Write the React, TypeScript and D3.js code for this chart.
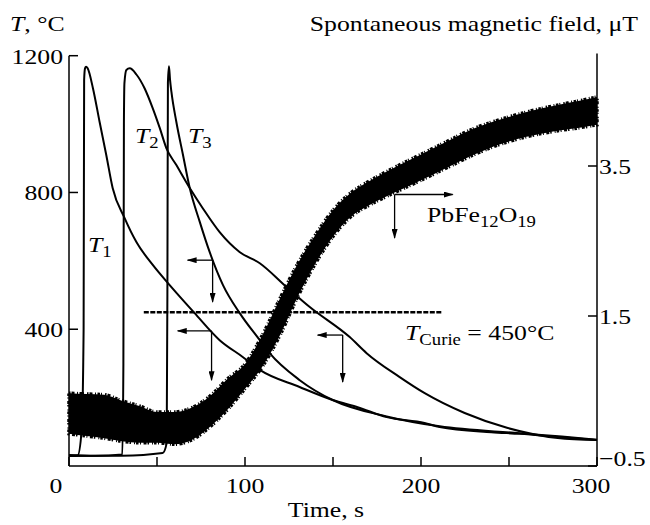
import { scaleLinear, line, area, curveMonotoneX } from 'd3';

// temperature curves (time s, °C)
const t1Time = [0, 4.9, 7.2, 8.3, 8.6, 9.1, 9.7, 10.6, 13.6, 17.4, 21.2, 24.8, 31.6, 38.3, 47.6, 57.2, 71.4, 85.6, 98.7, 108.4, 131, 149.8, 164, 180.5, 202, 210.6, 240, 256, 280, 300];
const t1Temp = [30, 31, 105, 400, 1129, 1163, 1168, 1163, 1105, 1006, 909, 813, 725, 655, 588, 529, 447, 368, 319, 281, 231, 193, 172, 143, 126, 114, 99, 94, 84, 76];

const t2Time = [0, 15, 30.3, 30.9, 31.2, 31.5, 32.6, 34.5, 38.3, 43, 47.6, 51.6, 55.3, 61, 68.6, 76, 85.6, 96.9, 108.4, 123.7, 136.8, 159.5, 169.1, 187.9, 202.1, 224.8, 249.3, 277.7, 300];
const t2Temp = [32, 30, 34, 300, 1000, 1120, 1158, 1163, 1145, 1104, 1046, 988, 930, 880, 813, 754, 684, 626, 593, 523, 465, 377, 330, 260, 213, 155, 111, 82, 76];

const t3Time = [0, 30, 53.2, 55.5, 55.9, 56.2, 56.8, 57.4, 58.2, 61, 64.8, 68.6, 74.3, 79.9, 87.5, 97, 108.4, 114, 131.1, 149.8, 180.5, 210.6, 256, 280, 300];
const t3Temp = [29, 30, 38, 67, 500, 1120, 1169, 1130, 1094, 1006, 909, 813, 714, 626, 529, 447, 368, 330, 251, 193, 145, 116, 96, 86, 77];

// spontaneous magnetic field band, upper and lower edge (μT)
const fieldTime = [0, 10, 20, 30, 40, 50, 60, 70, 80, 90, 100, 110, 120, 130, 140, 150, 160, 170, 180, 190, 200, 215, 230, 245, 260, 275, 290, 300];
const fieldHigh = [0.47, 0.46, 0.45, 0.37, 0.3, 0.22, 0.22, 0.28, 0.43, 0.66, 0.86, 1.25, 1.74, 2.2, 2.58, 2.91, 3.14, 3.29, 3.42, 3.54, 3.655, 3.83, 4.0, 4.12, 4.22, 4.3, 4.37, 4.42];
const fieldLow = [-0.07, -0.1, -0.13, -0.17, -0.19, -0.19, -0.21, -0.15, 0.02, 0.25, 0.53, 0.83, 1.25, 1.76, 2.2, 2.56, 2.82, 2.97, 3.09, 3.2, 3.31, 3.48, 3.65, 3.79, 3.89, 3.96, 4.01, 4.05];

const timeTicks = [0, 50, 100, 150, 200, 250, 300];
const timeLabels = [0, 100, 200, 300];
const tempTicks = [400, 800, 1200];
const fieldTicks = [-0.5, 1.5, 3.5];

const curieTemp = 450;
const curieSpan = [42.5, 212];

// arrows: start point, then where the horizontal and vertical arms end
const tempArrows = [
  { t: 81.6, T: 602, toT: 67.4, down: 480 },
  { t: 81, T: 395, toT: 61.8, down: 251 },
  { t: 155.5, T: 383, toT: 141.3, down: 246 },
];
const fieldArrow = { t: 185, v: 3.12, toT: 218, down: 2.54 };

const W = 650;
const H = 525;
const SX = 1.17;
const FONT = '"Liberation Serif", "Times New Roman", serif';

const x = scaleLinear().domain([0, 300]).range([69, 597]);
const yT = scaleLinear().domain([0, 1200]).range([466, 55.7]);
const yF = scaleLinear().domain([-0.5, 5]).range([466, 53.5]);

function Txt({ x: px, y: py, anchor = 'start', size = 22, children }: any) {
  return (
    <text transform={`translate(${px},${py}) scale(${SX},1)`} textAnchor={anchor} fontSize={size}>
      {children}
    </text>
  );
}

export default function App() {
  const tempLine = (ts: number[], vs: number[]) =>
    line<number>()
      .x((_, i) => x(ts[i]))
      .y((d) => yT(d))
      .curve(curveMonotoneX)(vs) ?? '';

  const band =
    area<number>()
      .x((d) => x(d))
      .y0((_, i) => yF(fieldLow[i]))
      .y1((_, i) => yF(fieldHigh[i]))
      .curve(curveMonotoneX)(fieldTime) ?? '';

  const bottom = yT(0);
  return (
    <svg
      width={W}
      height={H}
      style={{ position: 'absolute', left: 0, top: 0, background: '#fff' }}
      fontFamily={FONT}
    >
      <defs>
        <marker id="head" markerUnits="userSpaceOnUse" markerWidth="10" markerHeight="6" refX="9" refY="3" orient="auto">
          <path d="M0,0 L10,3 L0,6 Z" fill="#000" />
        </marker>
      </defs>

      {/* field band, ragged outline for the noise */}
      <path d={band} fill="#000" stroke="#000" strokeWidth={3.5} strokeDasharray="1.5 1 3 2.5 1 1.5 2.5 1 1 3" />

      {/* temperature curves */}
      {[
        [t1Time, t1Temp],
        [t2Time, t2Temp],
        [t3Time, t3Temp],
      ].map(([ts, vs], i) => (
        <path key={i} d={tempLine(ts, vs)} fill="none" stroke="#000" strokeWidth={2} strokeLinejoin="round" />
      ))}

      {/* Curie line */}
      <line
        x1={x(curieSpan[0])}
        x2={x(curieSpan[1])}
        y1={yT(curieTemp)}
        y2={yT(curieTemp)}
        stroke="#000"
        strokeWidth={2.5}
        strokeDasharray="5 1.5"
      />

      {/* arrows */}
      <g stroke="#000" strokeWidth={1.3}>
        {tempArrows.map((a, i) => (
          <g key={i}>
            <line x1={x(a.t)} y1={yT(a.T)} x2={x(a.toT)} y2={yT(a.T)} markerEnd="url(#head)" />
            <line x1={x(a.t)} y1={yT(a.T)} x2={x(a.t)} y2={yT(a.down)} markerEnd="url(#head)" />
          </g>
        ))}
        <line x1={x(fieldArrow.t)} y1={yF(fieldArrow.v)} x2={x(fieldArrow.toT)} y2={yF(fieldArrow.v)} markerEnd="url(#head)" />
        <line x1={x(fieldArrow.t)} y1={yF(fieldArrow.v)} x2={x(fieldArrow.t)} y2={yF(fieldArrow.down)} markerEnd="url(#head)" />
      </g>

      {/* axes */}
      <g stroke="#000" strokeWidth={1.5} fill="none">
        <line x1={x(0)} x2={x(0)} y1={yT(1200)} y2={bottom} />
        <line x1={x(0)} x2={x(300)} y1={bottom} y2={bottom} />
        <line x1={x(300)} x2={x(300)} y1={yF(5)} y2={bottom} />
        {timeTicks.map((t) => (
          <line key={t} x1={x(t)} x2={x(t)} y1={bottom} y2={bottom - 9} />
        ))}
        {tempTicks.map((v) => (
          <line key={v} x1={x(0)} x2={x(0) + 9} y1={yT(v)} y2={yT(v)} />
        ))}
        {fieldTicks.map((v) => (
          <line key={v} x1={x(300)} x2={x(300) - 9} y1={yF(v)} y2={yF(v)} />
        ))}
      </g>

      {/* tick labels */}
      {timeLabels.map((t) => (
        <Txt key={t} x={x(t) + (t === 0 ? -13 : t === 300 ? -6 : 0)} y={493} anchor="middle">
          {t}
        </Txt>
      ))}
      {tempTicks.map((v) => (
        <Txt key={v} x={x(0) - 6} y={yT(v) + 8} anchor="end">
          {v}
        </Txt>
      ))}
      {fieldTicks.map((v) => (
        <Txt key={v} x={x(300) + 2} y={yF(v) + (v === -0.5 ? 0 : 7.5)}>
          {v < 0 ? `\u2212${Math.abs(v)}` : v}
        </Txt>
      ))}

      {/* axis titles */}
      <Txt x={10} y={31}>
        <tspan fontStyle="italic">T</tspan>, °C
      </Txt>
      <Txt x={638} y={31} anchor="end">
        Spontaneous magnetic field, μT
      </Txt>
      <Txt x={326} y={517} anchor="middle">
        Time, s
      </Txt>

      {/* curve labels */}
      <Txt x={88} y={252}>
        <tspan fontStyle="italic">T</tspan>
        <tspan fontSize={16} dy={5}>1</tspan>
      </Txt>
      <Txt x={135} y={143}>
        <tspan fontStyle="italic">T</tspan>
        <tspan fontSize={16} dy={5}>2</tspan>
      </Txt>
      <Txt x={188} y={143}>
        <tspan fontStyle="italic">T</tspan>
        <tspan fontSize={16} dy={5}>3</tspan>
      </Txt>
      <Txt x={427} y={222}>
        PbFe<tspan fontSize={16} dy={5}>12</tspan>
        <tspan dy={-5}>O</tspan>
        <tspan fontSize={16} dy={5}>19</tspan>
      </Txt>
      <Txt x={405} y={340}>
        <tspan fontStyle="italic">T</tspan>
        <tspan fontSize={16} dy={5}>Curie</tspan>
        <tspan dy={-5}> = 450°C</tspan>
      </Txt>
    </svg>
  );
}
